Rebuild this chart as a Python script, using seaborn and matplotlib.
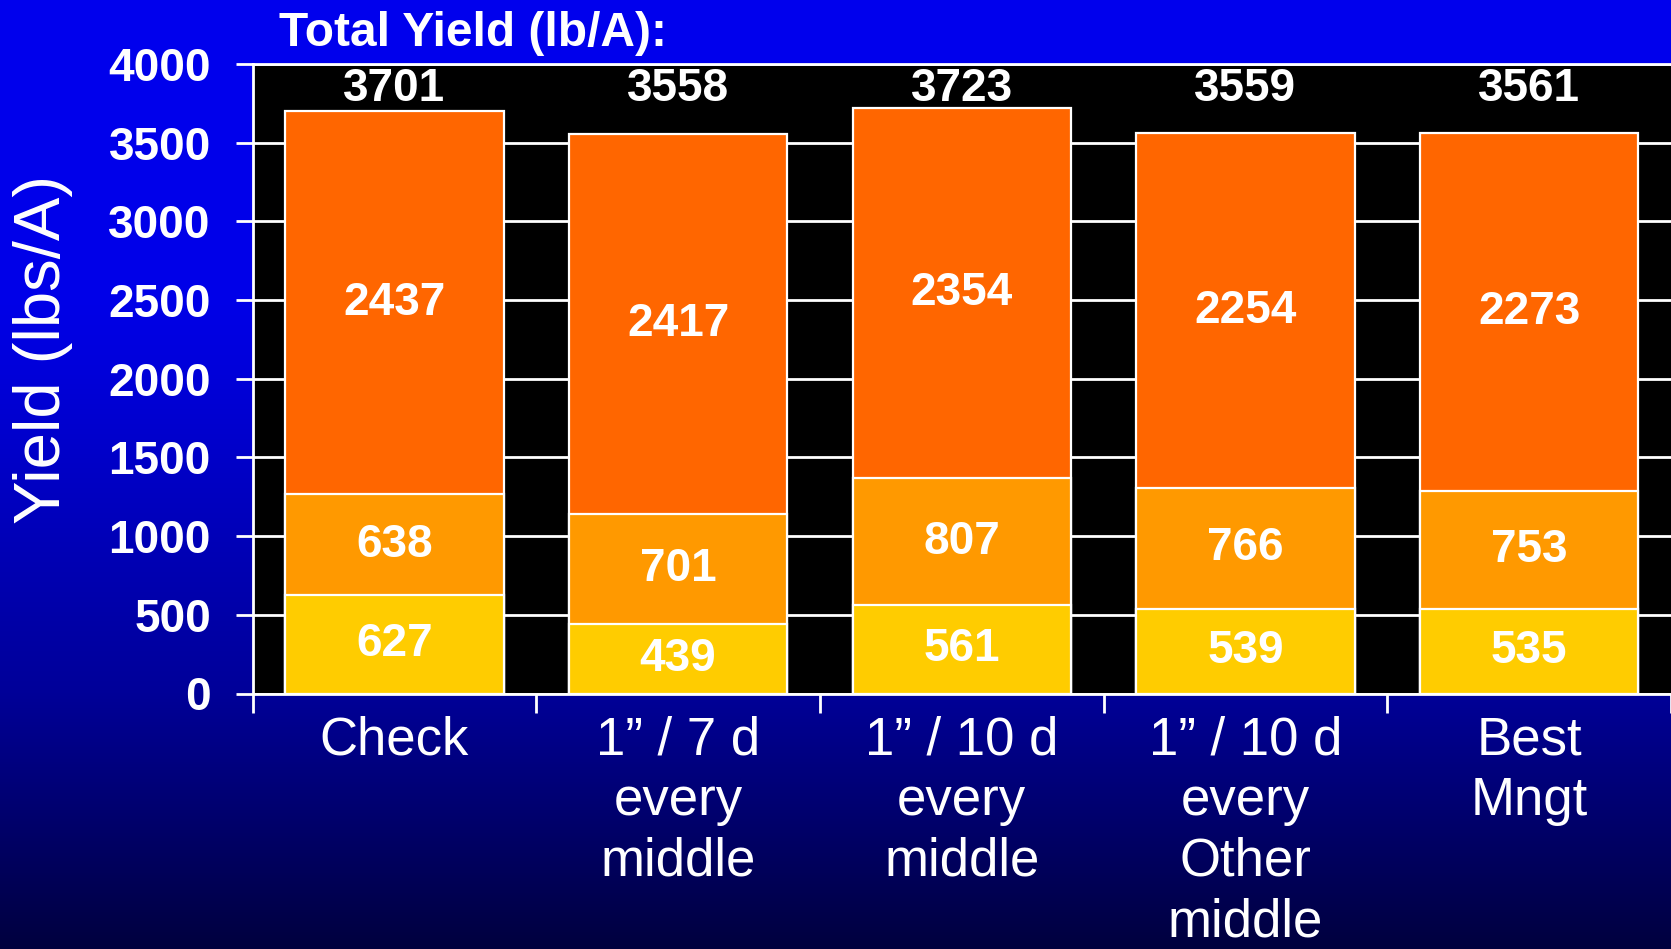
import numpy as np
import pandas as pd
import matplotlib
matplotlib.use("Agg")
import matplotlib.pyplot as plt
import seaborn as sns

# ---- data ----
treatments = ["Check",
              "1\u201d / 7 d\nevery\nmiddle",
              "1\u201d / 10 d\nevery\nmiddle",
              "1\u201d / 10 d\nevery\nOther\nmiddle",
              "Best\nMngt"]
low_vals = [627, 439, 561, 539, 535]
mid_vals = [638, 701, 807, 766, 753]
high_vals = [2437, 2417, 2354, 2254, 2273]
total_vals = [3701, 3558, 3723, 3559, 3561]
y_ticks = [0, 500, 1000, 1500, 2000, 2500, 3000, 3500, 4000]

sns.set_theme(style="white")
plt.rcParams['font.family'] = ['Liberation Sans', 'DejaVu Sans']

W, H = 1671, 949
fig = plt.figure(figsize=(W / 100, H / 100), dpi=100)

# background gradient
bg = fig.add_axes([0, 0, 1, 1])
rows = np.arange(H)
blue = np.interp(rows, [0, 300, 690, 949], [238, 232, 153, 62]) / 255.0
grad = np.zeros((H, 1, 3))
grad[:, 0, 2] = blue
bg.imshow(grad, aspect='auto', extent=[0, 1, 0, 1])
bg.set_axis_off()

left = 252.5 / W
bottom = (H - 693.5) / H
top = (H - 64) / H
ax = fig.add_axes([left, bottom, 1 - left, top - bottom])
ax.set_facecolor('black')

df = pd.DataFrame({"treatment": treatments, "low": low_vals,
                   "mid": mid_vals, "high": high_vals})
df["c1"] = df["low"]
df["c2"] = df["low"] + df["mid"]
df["c3"] = df["c2"] + df["high"]

for col, color in [("c3", "#FF6600"), ("c2", "#FF9900"), ("c1", "#FFCC00")]:
    sns.barplot(data=df, x="treatment", y=col, color=color, saturation=1,
                width=0.77, edgecolor="white", linewidth=1.6, ax=ax,
                zorder=3, errorbar=None)

ax.set_xlim(-0.5, 4.5)
ax.set_ylim(0, 4000)
ax.set_yticks(y_ticks)
ax.set_yticklabels([str(v) for v in y_ticks])
ax.set_axisbelow(True)
ax.yaxis.grid(True, color='white', linewidth=2)
ax.xaxis.grid(False)
ax.set_xlabel("")
ax.set_ylabel("")

for s in ['left', 'bottom', 'top']:
    ax.spines[s].set_color('white')
    ax.spines[s].set_linewidth(2)
ax.spines['right'].set_visible(False)

ax.tick_params(axis='y', which='major', left=True, length=12, width=2,
               color='white', labelcolor='white', labelsize=33, pad=18)
for lbl in ax.get_yticklabels():
    lbl.set_fontweight('bold')

ax.set_xticks(range(len(treatments)))
ax.set_xticklabels(treatments, fontsize=38, color='white',
                   multialignment='center', linespacing=1.27)
ax.tick_params(axis='x', which='major', length=0, pad=16)
ax.set_xticks(np.arange(-0.5, len(treatments), 1.0), minor=True)
ax.tick_params(axis='x', which='minor', bottom=True, length=14, width=2,
               color='white')

lab_kw = dict(ha='center', va='center', color='white', fontsize=33,
              fontweight='bold', zorder=5)
for i in range(len(treatments)):
    c1 = df["c1"][i]
    c2 = df["c2"][i]
    ax.text(i, c1 / 2, str(low_vals[i]), **lab_kw)
    ax.text(i, c1 + mid_vals[i] / 2, str(mid_vals[i]), **lab_kw)
    ax.text(i, c2 + high_vals[i] / 2, str(high_vals[i]), **lab_kw)
    ax.text(i, 3840, str(total_vals[i]), **lab_kw)

fig.text(279 / W, 1 - 33 / H, "Total Yield (lb/A):", ha='left', va='center',
         color='white', fontsize=34.5, fontweight='bold')
fig.text(43 / W, 1 - 349 / H, "Yield (lbs/A)", ha='center', va='center',
         rotation=90, color='white', fontsize=47)

fig.savefig("out.png", dpi=100)
